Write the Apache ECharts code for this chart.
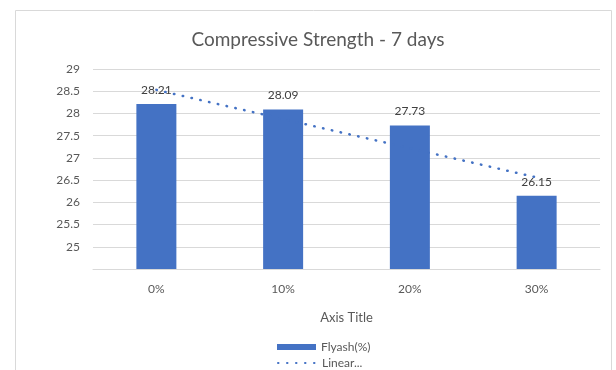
<!DOCTYPE html>
<html>
<head>
<meta charset="utf-8">
<script src="https://cdn.jsdelivr.net/npm/echarts@6/dist/echarts.min.js"></script>
<style>
  html, body { margin: 0; padding: 0; background: #fff; }
  #chart { width: 616px; height: 370px; }
</style>
</head>
<body>
<div id="chart"></div>
<script>
// Fly ash replacement levels and 7-day compressive strength
const categories = ['0%', '10%', '20%', '30%'];
const strength = [28.21, 28.09, 27.73, 26.15];
// Linear trendline end points (straight line between first and last category)
const trendline = [28.53, null, null, 26.56];
const yTicks = { min: 24.5, max: 29, interval: 0.5 };

const FONT = 'Lato, "Open Sans", sans-serif';
const BLUE = '#4472C4';
const TEXT = '#595959';

const chart = echarts.init(document.getElementById('chart'), null, { renderer: 'canvas' });

const legendBase = {
  orient: 'vertical',
  left: 277,
  itemWidth: 39,
  itemHeight: 6,
  padding: 0,
  textStyle: { fontFamily: FONT, fontSize: 12, color: TEXT }
};

chart.setOption({
  animation: false,
  textStyle: { fontFamily: FONT },
  graphic: [{
    type: 'rect',
    shape: { x: 15.5, y: 10.5, width: 596, height: 380 },
    style: { fill: 'none', stroke: '#d9d9d9', lineWidth: 1 },
    silent: true
  }],
  title: {
    text: 'Compressive Strength - 7 days',
    left: 313,
    textAlign: 'center',
    top: 25,
    textStyle: { fontFamily: FONT, fontSize: 19, fontWeight: 'normal', color: TEXT }
  },
  legend: [
    Object.assign({}, legendBase, {
      top: 341,
      data: [{ name: 'Flyash(%)', icon: 'rect' }]
    }),
    Object.assign({}, legendBase, {
      top: 357,
      data: [{ name: 'Linear...', itemStyle: { opacity: 0 } }]
    })
  ],
  grid: { left: 93, right: 16, top: 69, bottom: 101, containLabel: false },
  xAxis: {
    type: 'category',
    data: categories,
    name: 'Axis Title',
    nameLocation: 'middle',
    nameGap: 42,
    nameTextStyle: { fontFamily: FONT, fontSize: 13, color: TEXT },
    axisLine: { show: true, lineStyle: { color: '#d9d9d9', width: 1 } },
    axisTick: { show: false },
    axisLabel: { color: TEXT, fontSize: 12, fontFamily: FONT, margin: 14 }
  },
  yAxis: {
    type: 'value',
    min: yTicks.min,
    max: yTicks.max,
    interval: yTicks.interval,
    axisLine: { show: false },
    axisTick: { show: false },
    axisLabel: { color: TEXT, fontSize: 12, fontFamily: FONT, margin: 13, showMinLabel: false },
    splitLine: { lineStyle: { color: '#d9d9d9', width: 1 } }
  },
  series: [
    {
      name: 'Flyash(%)',
      type: 'bar',
      data: strength,
      barWidth: 40,
      itemStyle: { color: BLUE },
      label: {
        show: true,
        position: 'top',
        distance: 8,
        color: '#404040',
        fontSize: 12,
        fontFamily: FONT
      },
      z: 2
    },
    {
      name: 'Linear...',
      type: 'line',
      data: trendline,
      connectNulls: true,
      symbol: 'none',
      lineStyle: { color: BLUE, width: 2.5, type: [0.5, 8.5], cap: 'round' },
      itemStyle: { color: BLUE },
      z: 3
    }
  ]
});
</script>
</body>
</html>
